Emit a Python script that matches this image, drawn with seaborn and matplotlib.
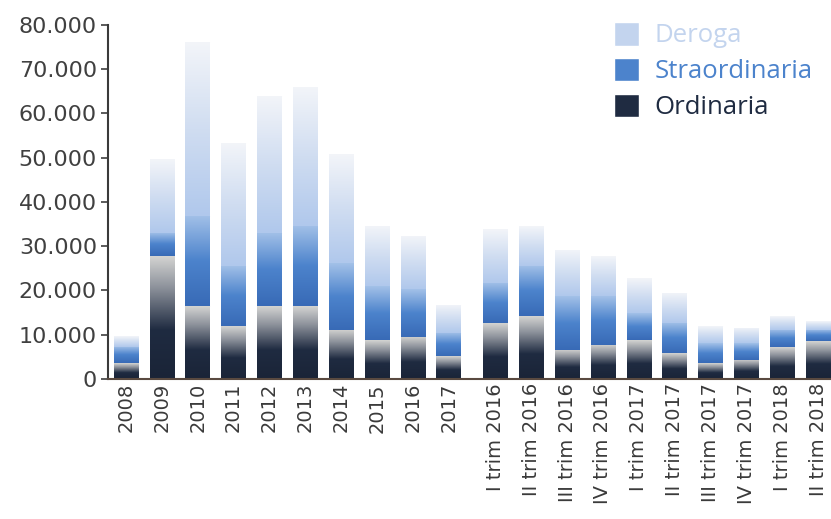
import numpy as np
import pandas as pd
import seaborn as sns
import matplotlib
matplotlib.use("Agg")
from matplotlib import pyplot as plt
from matplotlib.patches import Patch
from matplotlib.colors import LinearSegmentedColormap
from matplotlib.ticker import FuncFormatter

# categories: 10 years, then 10 quarters
years = ["2008", "2009", "2010", "2011", "2012", "2013", "2014", "2015", "2016", "2017"]
quarters = ["I trim 2016", "II trim 2016", "III trim 2016", "IV trim 2016",
            "I trim 2017", "II trim 2017", "III trim 2017", "IV trim 2017",
            "I trim 2018", "II trim 2018"]

# values
ordinaria_years = [3600, 27700, 16400, 11900, 16400, 16400, 11100, 8800, 9500, 5100]
straord_years = [3700, 5300, 20400, 13600, 16600, 18100, 15100, 12100, 10700, 5300]
deroga_years = [2300, 16700, 39300, 27900, 31000, 31500, 24600, 13600, 12100, 6400]

ordinaria_q = [12600, 14100, 6600, 7700, 8800, 5800, 3600, 4300, 7200, 8500]
straord_q = [9100, 11400, 12100, 11000, 6100, 6800, 4500, 3800, 3900, 2600]
deroga_q = [12100, 9000, 10500, 9000, 7900, 6800, 3800, 3400, 3000, 1900]

labels = years + quarters
df = pd.DataFrame({
    "label": labels,
    "Ordinaria": ordinaria_years + ordinaria_q,
    "Straordinaria": straord_years + straord_q,
    "Deroga": deroga_years + deroga_q,
})
# small gap between the yearly block and the quarterly block
df["pos"] = np.r_[np.arange(len(years)), np.arange(len(quarters)) + len(years) + 0.3]
df["top_ord"] = df["Ordinaria"]
df["top_str"] = df["top_ord"] + df["Straordinaria"]
df["top_der"] = df["top_str"] + df["Deroga"]

sns.set_style("white")
plt.rcParams["font.family"] = ["DejaVu Sans"]

fig = plt.figure(figsize=(8.31, 5.19), dpi=100)
ax = fig.add_axes([0.130, 0.270, 0.8695, 0.682])

# gradients, bottom -> top of each segment
grad = {
    "Ordinaria": LinearSegmentedColormap.from_list(
        "o", [(0, "#1a2437"), (0.4, "#1f2b41"), (0.75, "#8e939c"), (1, "#d4d4d2")]),
    "Straordinaria": LinearSegmentedColormap.from_list(
        "s", [(0, "#386ab6"), (0.5, "#4c83cc"), (1, "#a3c1e8")]),
    "Deroga": LinearSegmentedColormap.from_list(
        "d", [(0, "#b0c8ec"), (0.5, "#d0ddf1"), (1, "#f3f5f9")]),
}
base = {"Ordinaria": "#1f2b41", "Straordinaria": "#4c83cc", "Deroga": "#c3d4ee"}
ramp = np.linspace(0, 1, 256).reshape(-1, 1)

layers = [("Deroga", "top_der", "top_str"),
          ("Straordinaria", "top_str", "top_ord"),
          ("Ordinaria", "top_ord", None)]
for k, (name, top_col, bot_col) in enumerate(layers):
    n_before = len(ax.patches)
    sns.barplot(data=df, x="pos", y=top_col, native_scale=True, color=base[name],
                width=0.68, errorbar=None, ax=ax, zorder=2)
    for i, p in enumerate(ax.patches[n_before:]):
        x0 = p.get_x()
        x1 = x0 + p.get_width()
        y1 = p.get_height()
        y0 = 0 if bot_col is None else df[bot_col].iloc[i]
        im = ax.imshow(ramp, cmap=grad[name], origin="lower", aspect="auto",
                       extent=[x0, x1, y0, y1], zorder=3 + k)
        im.set_clip_path(p)

ax.set_xlim(-0.5, df["pos"].iloc[-1] + 0.35)
ax.set_ylim(0, 80000)
ax.set_xticks(df["pos"])
ax.set_xticklabels(labels, rotation=90, fontsize=14, color="#3a3a3a")
ax.set_yticks(np.arange(0, 80001, 10000))
ax.yaxis.set_major_formatter(FuncFormatter(lambda v, _: f"{v:,.0f}".replace(",", ".")))
ax.tick_params(axis="y", labelsize=16, colors="#404040", length=5, width=1.2, direction="out", left=True, pad=3)
ax.tick_params(axis="x", length=0, pad=3)
ax.set_xlabel("")
ax.set_ylabel("")
for side in ["top", "right"]:
    ax.spines[side].set_visible(False)
ax.spines["left"].set_color("#3a3a3a")
ax.spines["left"].set_linewidth(1.5)
ax.spines["bottom"].set_color("#5a4a40")
ax.spines["bottom"].set_linewidth(1.5)
ax.spines["left"].set_zorder(10)
ax.spines["bottom"].set_zorder(10)

handles = [Patch(facecolor="#c3d4ee"), Patch(facecolor="#4c83cc"), Patch(facecolor="#1f2b41")]
leg = fig.legend(handles, ["Deroga", "Straordinaria", "Ordinaria"], loc="upper right",
                 bbox_to_anchor=(0.99, 0.978), frameon=False,
                 handlelength=0.95, handleheight=1.05, labelspacing=0.36, handletextpad=0.6,
                 borderaxespad=0.0,
                 prop={"family": ["Open Sans", "DejaVu Sans"], "size": 18.5})
for t, c in zip(leg.get_texts(), ["#c3d4ee", "#4c83cc", "#1f2b41"]):
    t.set_color(c)

fig.savefig("out.png", dpi=100)
